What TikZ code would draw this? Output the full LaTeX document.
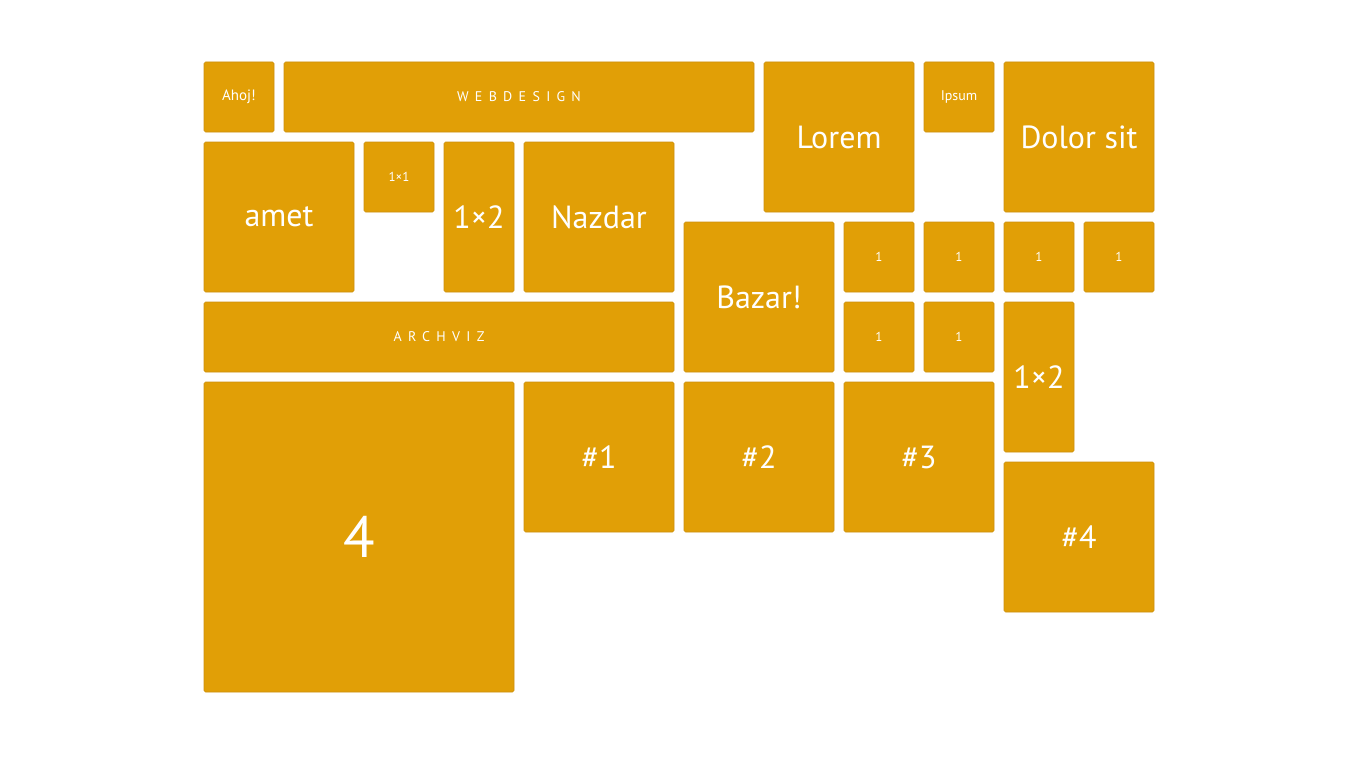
\documentclass[tikz,border=0pt]{standalone}
\usepackage{fontspec}
\setmainfont{PT Sans}
\definecolor{tileor}{HTML}{E19F06}
\definecolor{tileedge}{HTML}{CC9010}
\begin{document}
\begin{tikzpicture}[x=1pt,y=-1pt,
  tile/.style={anchor=north west, fill=tileor, draw=tileedge, line width=0.6pt,
    rounded corners=1.5pt, text=white, inner sep=0pt, outer sep=0pt,
    minimum width=#1},
  tile/.default=70pt,
  tall/.style={minimum height=#1},
  txt/.style={font=\fontsize{#1}{#1}\selectfont}]
\useasboundingbox (0,0) rectangle (1366,768);
\fill[white] (0,0) rectangle (1366,768);
% row 0
\node[tile, tall=70pt, txt=15] (ahoj) at (204,62) {Ahoj!};
\node[tile=470pt, tall=70pt, txt=14] (web) at (284,62) {\addfontfeature{LetterSpace=45}WEBDESIGN};
\node[tile=150pt, tall=150pt, txt=32] (lorem) at (764,62) {Lorem};
\node[tile, tall=70pt, txt=14] (ipsum) at (924,62) {Ipsum};
\node[tile=150pt, tall=150pt, txt=32] (dolor) at (1004,62) {Dolor sit};
% row 1
\node[tile=150pt, tall=150pt, txt=32] (amet) at (204,142) {amet};
\node[tile, tall=70pt, txt=13] (oneone) at (364,142) {1×1};
\node[tile, tall=150pt, txt=32] (onetwoa) at (444,142) {1×2};
\node[tile=150pt, tall=150pt, txt=32] (nazdar) at (524,142) {Nazdar};
% row 2
\node[tile=150pt, tall=150pt, txt=32] (bazar) at (684,222) {Bazar!};
\node[tile, tall=70pt, txt=13] (oa) at (844,222) {1};
\node[tile, tall=70pt, txt=13] (ob) at (924,222) {1};
\node[tile, tall=70pt, txt=13] (oc) at (1004,222) {1};
\node[tile, tall=70pt, txt=13] (od) at (1084,222) {1};
% row 3
\node[tile=470pt, tall=70pt, txt=14] (arch) at (204,302) {\addfontfeature{LetterSpace=45}ARCHVIZ};
\node[tile, tall=70pt, txt=13] (oe) at (844,302) {1};
\node[tile, tall=70pt, txt=13] (of) at (924,302) {1};
\node[tile, tall=150pt, txt=32] (onetwob) at (1004,302) {1×2};
% row 4
\node[tile=310pt, tall=310pt, txt=58] (four) at (204,382) {4};
\node[tile=150pt, tall=150pt, txt=32] (h1) at (524,382) {\#1};
\node[tile=150pt, tall=150pt, txt=32] (h2) at (684,382) {\#2};
\node[tile=150pt, tall=150pt, txt=32] (h3) at (844,382) {\#3};
\node[tile=150pt, tall=150pt, txt=32] (h4) at (1004,462) {\#4};
\end{tikzpicture}
\end{document}
